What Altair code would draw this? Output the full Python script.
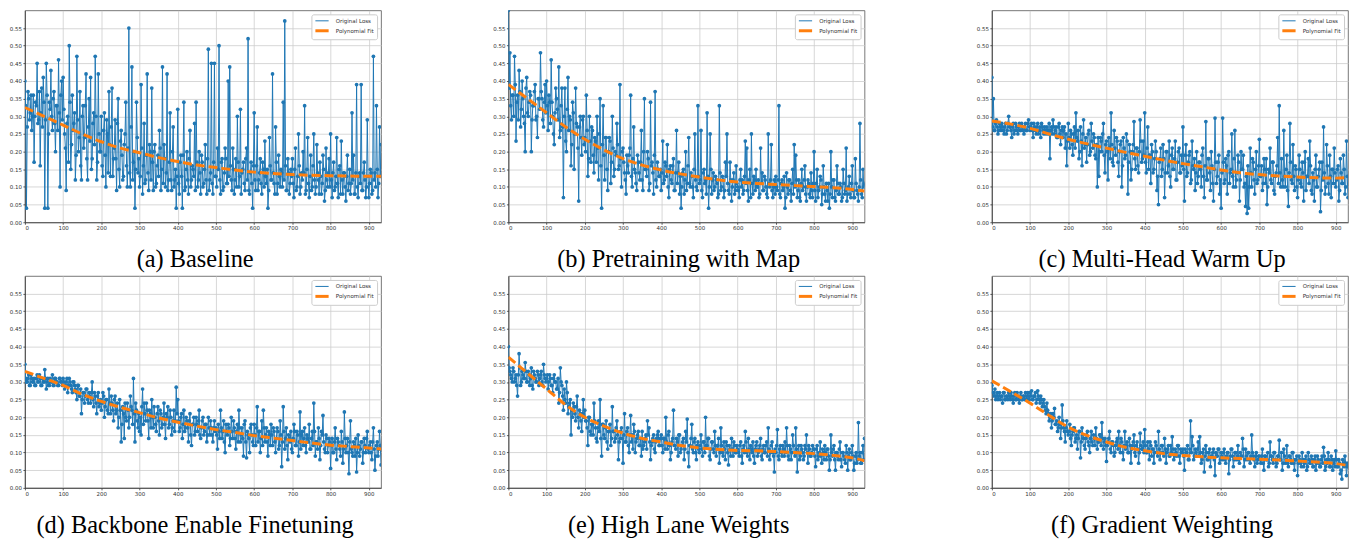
import altair as alt
import pandas as pd

ITER = list(range(0, 936, 4))      # iterations sampled at 0, 4, 8, ...
ITER2 = list(range(2, 932, 4))     # iterations sampled at 2, 6, 10, ...
FIT_X = [0, 50, 100, 150, 200, 250, 300, 350, 400, 450, 500, 550, 600, 650, 700, 750, 800, 850, 900, 932]

CAPTIONS = ["(a) Baseline", "(b) Pretraining with Map", "(c) Multi-Head Warm Up",
            "(d) Backbone Enable Finetuning", "(e) High Lane Weights", "(f) Gradient Weighting"]
SERIES = ["Original Loss", "Polynomial Fit"]
BLUE, ORANGE = "#1f77b4", "#ff7f0e"

LOSS_A = [
    0.40, 0.04, 0.37, 0.29, 0.36, 0.30, 0.17, 0.34, 0.45, 0.29, 0.16, 0.38, 0.41, 0.04, 0.45, 0.04, 0.34, 0.43, 0.26, 0.37, 0.20, 0.33, 0.46, 0.10, 0.40,
    0.41, 0.25, 0.09, 0.30, 0.50, 0.15, 0.36, 0.28, 0.12, 0.47, 0.20, 0.37, 0.12, 0.33, 0.24, 0.42, 0.12, 0.35, 0.41, 0.18, 0.31, 0.47, 0.12, 0.42, 0.20,
    0.30, 0.13, 0.31, 0.10, 0.25, 0.37, 0.13, 0.38, 0.18, 0.29, 0.09, 0.35, 0.10, 0.26, 0.12, 0.22, 0.34, 0.10, 0.55, 0.10, 0.44, 0.17, 0.04, 0.34, 0.14,
    0.10, 0.39, 0.08, 0.28, 0.12, 0.42, 0.09, 0.20, 0.38, 0.09, 0.22, 0.11, 0.19, 0.26, 0.09, 0.44, 0.22, 0.10, 0.42, 0.12, 0.31, 0.09, 0.27, 0.12, 0.04,
    0.32, 0.08, 0.19, 0.04, 0.34, 0.10, 0.20, 0.08, 0.26, 0.12, 0.15, 0.28, 0.34, 0.10, 0.20, 0.08, 0.17, 0.11, 0.22, 0.08, 0.49, 0.12, 0.45, 0.08, 0.45,
    0.13, 0.21, 0.50, 0.08, 0.18, 0.10, 0.21, 0.11, 0.40, 0.44, 0.12, 0.21, 0.08, 0.18, 0.30, 0.10, 0.32, 0.14, 0.17, 0.09, 0.21, 0.52, 0.08, 0.17, 0.04,
    0.31, 0.09, 0.27, 0.12, 0.18, 0.08, 0.15, 0.23, 0.11, 0.04, 0.24, 0.12, 0.42, 0.11, 0.27, 0.08, 0.19, 0.10, 0.14, 0.34, 0.57, 0.09, 0.18, 0.08, 0.15,
    0.18, 0.07, 0.21, 0.10, 0.25, 0.08, 0.14, 0.20, 0.33, 0.09, 0.24, 0.07, 0.19, 0.10, 0.25, 0.08, 0.22, 0.12, 0.17, 0.08, 0.19, 0.06, 0.21, 0.10, 0.18,
    0.25, 0.07, 0.17, 0.10, 0.24, 0.07, 0.16, 0.23, 0.08, 0.14, 0.06, 0.19, 0.11, 0.08, 0.31, 0.19, 0.08, 0.39, 0.07, 0.14, 0.39, 0.09, 0.17, 0.07, 0.29,
    0.07, 0.15, 0.08, 0.47, 0.14, 0.33, 0.07, 0.27, 0.22,
]
LOSS_A2 = [
    0.33, 0.27, 0.35, 0.31, 0.26, 0.36, 0.30, 0.33, 0.28, 0.37, 0.31, 0.27, 0.34, 0.29, 0.36, 0.25, 0.32, 0.30, 0.35, 0.28, 0.33, 0.26, 0.31, 0.36, 0.29,
    0.32, 0.21, 0.28, 0.17, 0.34, 0.22, 0.26, 0.31, 0.19, 0.29, 0.24, 0.16, 0.30, 0.21, 0.33, 0.18, 0.27, 0.23, 0.15, 0.28, 0.22, 0.30, 0.17, 0.25, 0.20,
    0.16, 0.26, 0.19, 0.29, 0.14, 0.22, 0.27, 0.13, 0.21, 0.18, 0.28, 0.15, 0.23, 0.19, 0.13, 0.25, 0.16, 0.21, 0.14, 0.27, 0.12, 0.20, 0.15, 0.24, 0.18,
    0.13, 0.21, 0.16, 0.11, 0.19, 0.14, 0.22, 0.12, 0.17, 0.20, 0.10, 0.16, 0.13, 0.21, 0.15, 0.11, 0.18, 0.14, 0.09, 0.17, 0.12, 0.20, 0.10, 0.15, 0.13,
    0.11, 0.17, 0.13, 0.19, 0.09, 0.15, 0.12, 0.18, 0.10, 0.16, 0.13, 0.09, 0.17, 0.12, 0.14, 0.19, 0.10, 0.15, 0.12, 0.18, 0.09, 0.14, 0.11, 0.17, 0.13,
    0.10, 0.15, 0.12, 0.17, 0.09, 0.14, 0.18, 0.11, 0.13, 0.16, 0.09, 0.15, 0.12, 0.10, 0.17, 0.13, 0.08, 0.15, 0.11, 0.18, 0.12, 0.09, 0.14, 0.11, 0.16,
    0.12, 0.16, 0.09, 0.14, 0.11, 0.17, 0.10, 0.13, 0.15, 0.09, 0.16, 0.12, 0.14, 0.08, 0.17, 0.11, 0.13, 0.15, 0.10, 0.12, 0.16, 0.09, 0.14, 0.11, 0.13,
    0.11, 0.15, 0.09, 0.13, 0.16, 0.10, 0.12, 0.14, 0.08, 0.15, 0.11, 0.13, 0.09, 0.16, 0.12, 0.10, 0.14, 0.08, 0.13, 0.11, 0.15, 0.09, 0.12, 0.14, 0.10,
    0.12, 0.14, 0.09, 0.13, 0.11, 0.15, 0.08, 0.12, 0.14, 0.10, 0.13, 0.09, 0.15, 0.11, 0.12, 0.08, 0.14, 0.10, 0.13, 0.11, 0.09, 0.14, 0.12, 0.10, 0.13,
    0.11, 0.14, 0.09, 0.12, 0.10, 0.15, 0.11, 0.13,
]
LOSS_B = [
    0.60, 0.48, 0.29, 0.36, 0.47, 0.23, 0.36, 0.43, 0.27, 0.40, 0.30, 0.20, 0.41, 0.30, 0.37, 0.20, 0.33, 0.37, 0.29, 0.24, 0.35, 0.48, 0.35, 0.27, 0.39,
    0.40, 0.26, 0.34, 0.46, 0.30, 0.22, 0.38, 0.32, 0.44, 0.26, 0.38, 0.07, 0.38, 0.20, 0.41, 0.30, 0.16, 0.34, 0.15, 0.38, 0.27, 0.06, 0.30, 0.19, 0.30,
    0.24, 0.36, 0.13, 0.30, 0.17, 0.26, 0.14, 0.23, 0.30, 0.12, 0.35, 0.04, 0.33, 0.12, 0.24, 0.09, 0.24, 0.11, 0.30, 0.13, 0.20, 0.28, 0.15, 0.39, 0.10,
    0.21, 0.14, 0.08, 0.16, 0.19, 0.36, 0.10, 0.27, 0.14, 0.09, 0.17, 0.12, 0.26, 0.09, 0.35, 0.15, 0.20, 0.09, 0.34, 0.17, 0.08, 0.37, 0.10, 0.15, 0.13,
    0.09, 0.23, 0.12, 0.16, 0.22, 0.07, 0.16, 0.11, 0.18, 0.09, 0.26, 0.14, 0.08, 0.04, 0.14, 0.08, 0.20, 0.11, 0.24, 0.10, 0.13, 0.07, 0.25, 0.10, 0.33,
    0.11, 0.26, 0.07, 0.15, 0.12, 0.31, 0.04, 0.25, 0.08, 0.14, 0.10, 0.12, 0.07, 0.33, 0.09, 0.13, 0.07, 0.17, 0.25, 0.09, 0.17, 0.06, 0.12, 0.08, 0.16,
    0.10, 0.07, 0.15, 0.12, 0.09, 0.23, 0.21, 0.06, 0.15, 0.25, 0.08, 0.12, 0.15, 0.10, 0.07, 0.21, 0.14, 0.09, 0.12, 0.08, 0.25, 0.10, 0.22, 0.07, 0.12,
    0.13, 0.09, 0.33, 0.07, 0.12, 0.10, 0.04, 0.14, 0.08, 0.12, 0.06, 0.15, 0.22, 0.19, 0.07, 0.12, 0.06, 0.15, 0.10, 0.16, 0.06, 0.12, 0.08, 0.14, 0.07,
    0.20, 0.06, 0.15, 0.09, 0.13, 0.05, 0.16, 0.08, 0.11, 0.06, 0.04, 0.20, 0.07, 0.12, 0.06, 0.16, 0.08, 0.11, 0.06, 0.15, 0.08, 0.21, 0.08, 0.13, 0.07,
    0.16, 0.07, 0.18, 0.09, 0.06, 0.28, 0.08, 0.15, 0.11,
]
LOSS_B2 = [
    0.38, 0.33, 0.36, 0.30, 0.39, 0.34, 0.29, 0.37, 0.32, 0.35, 0.28, 0.38, 0.31, 0.34, 0.36, 0.29, 0.33, 0.39, 0.30, 0.35, 0.32, 0.37, 0.29, 0.34, 0.31,
    0.33, 0.36, 0.28, 0.34, 0.25, 0.31, 0.35, 0.29, 0.24, 0.33, 0.27, 0.30, 0.23, 0.32, 0.26, 0.29, 0.22, 0.31, 0.25, 0.28, 0.21, 0.27, 0.24, 0.29, 0.22,
    0.20, 0.26, 0.18, 0.23, 0.27, 0.19, 0.24, 0.17, 0.21, 0.25, 0.16, 0.22, 0.19, 0.24, 0.15, 0.20, 0.23, 0.17, 0.21, 0.15, 0.19, 0.22, 0.16, 0.18, 0.20,
    0.17, 0.12, 0.19, 0.14, 0.21, 0.13, 0.18, 0.15, 0.11, 0.19, 0.14, 0.17, 0.12, 0.20, 0.15, 0.13, 0.18, 0.11, 0.16, 0.14, 0.19, 0.12, 0.17, 0.13, 0.15,
    0.14, 0.11, 0.17, 0.13, 0.10, 0.15, 0.12, 0.16, 0.09, 0.14, 0.11, 0.17, 0.13, 0.10, 0.15, 0.12, 0.09, 0.16, 0.11, 0.14, 0.10, 0.15, 0.12, 0.09, 0.13,
    0.12, 0.09, 0.14, 0.11, 0.08, 0.13, 0.10, 0.15, 0.12, 0.09, 0.13, 0.11, 0.08, 0.14, 0.10, 0.12, 0.09, 0.13, 0.11, 0.08, 0.12, 0.10, 0.14, 0.09, 0.11,
    0.09, 0.12, 0.10, 0.08, 0.13, 0.11, 0.09, 0.12, 0.07, 0.11, 0.13, 0.09, 0.10, 0.12, 0.08, 0.11, 0.09, 0.13, 0.10, 0.07, 0.11, 0.12, 0.09, 0.10, 0.08,
    0.10, 0.12, 0.08, 0.11, 0.09, 0.13, 0.07, 0.10, 0.12, 0.09, 0.11, 0.08, 0.10, 0.12, 0.09, 0.07, 0.11, 0.09, 0.12, 0.08, 0.10, 0.11, 0.07, 0.09, 0.11,
    0.09, 0.11, 0.07, 0.10, 0.12, 0.08, 0.10, 0.06, 0.09, 0.11, 0.08, 0.10, 0.12, 0.07, 0.09, 0.11, 0.08, 0.10, 0.07, 0.11, 0.09, 0.06, 0.10, 0.08, 0.11,
    0.09, 0.07, 0.11, 0.08, 0.10, 0.12, 0.07, 0.10,
]
LOSS_C = [
    0.41, 0.35, 0.26, 0.29, 0.25, 0.28, 0.26, 0.27, 0.25, 0.28, 0.26, 0.30, 0.27, 0.24, 0.28, 0.26, 0.27, 0.25, 0.28, 0.26, 0.27, 0.25, 0.28, 0.26, 0.29,
    0.26, 0.28, 0.24, 0.27, 0.25, 0.28, 0.26, 0.24, 0.27, 0.25, 0.26, 0.27, 0.25, 0.18, 0.27, 0.29, 0.25, 0.27, 0.24, 0.28, 0.22, 0.27, 0.26, 0.21, 0.16,
    0.28, 0.21, 0.25, 0.19, 0.27, 0.31, 0.23, 0.18, 0.27, 0.16, 0.29, 0.22, 0.17, 0.25, 0.19, 0.28, 0.21, 0.24, 0.18, 0.10, 0.13, 0.24, 0.20, 0.28, 0.14,
    0.23, 0.12, 0.21, 0.31, 0.17, 0.26, 0.19, 0.23, 0.13, 0.22, 0.10, 0.24, 0.18, 0.25, 0.08, 0.22, 0.12, 0.20, 0.285, 0.15, 0.21, 0.14, 0.29, 0.17, 0.23,
    0.31, 0.14, 0.27, 0.19, 0.11, 0.20, 0.15, 0.23, 0.09, 0.05, 0.18, 0.13, 0.22, 0.07, 0.20, 0.14, 0.23, 0.10, 0.21, 0.15, 0.23, 0.12, 0.20, 0.14, 0.19,
    0.27, 0.06, 0.22, 0.14, 0.19, 0.11, 0.23, 0.15, 0.09, 0.20, 0.13, 0.17, 0.10, 0.21, 0.07, 0.285, 0.12, 0.18, 0.09, 0.16, 0.06, 0.295, 0.11, 0.17, 0.08,
    0.04, 0.295, 0.11, 0.18, 0.08, 0.20, 0.14, 0.25, 0.10, 0.26, 0.12, 0.19, 0.06, 0.20, 0.15, 0.10, 0.045, 0.025, 0.04, 0.21, 0.10, 0.17, 0.08, 0.20, 0.12,
    0.235, 0.13, 0.09, 0.18, 0.11, 0.05, 0.15, 0.21, 0.11, 0.17, 0.08, 0.14, 0.24, 0.33, 0.10, 0.12, 0.26, 0.10, 0.19, 0.045, 0.28, 0.12, 0.22, 0.09, 0.15,
    0.07, 0.19, 0.11, 0.17, 0.06, 0.20, 0.13, 0.18, 0.23, 0.09, 0.14, 0.06, 0.19, 0.10, 0.15, 0.03, 0.17, 0.27, 0.08, 0.22, 0.11, 0.19, 0.07, 0.15, 0.21,
    0.10, 0.15, 0.06, 0.18, 0.11, 0.19, 0.08, 0.23, 0.07,
]
LOSS_C2 = [
    0.27, 0.26, 0.28, 0.27, 0.26, 0.27, 0.28, 0.26, 0.27, 0.25, 0.28, 0.27, 0.26, 0.27, 0.25, 0.28, 0.26, 0.27, 0.26, 0.28, 0.26, 0.27, 0.26, 0.28, 0.27,
    0.27, 0.26, 0.28, 0.26, 0.27, 0.25, 0.27, 0.28, 0.26, 0.27, 0.25, 0.26, 0.28, 0.26, 0.25, 0.27, 0.26, 0.24, 0.27, 0.25, 0.26, 0.24, 0.27, 0.25, 0.23,
    0.24, 0.26, 0.22, 0.25, 0.21, 0.24, 0.26, 0.20, 0.23, 0.25, 0.21, 0.24, 0.22, 0.26, 0.20, 0.23, 0.25, 0.19, 0.22, 0.24, 0.20, 0.23, 0.25, 0.19, 0.22,
    0.20, 0.24, 0.18, 0.22, 0.16, 0.21, 0.24, 0.17, 0.20, 0.23, 0.16, 0.21, 0.19, 0.23, 0.17, 0.20, 0.15, 0.22, 0.18, 0.21, 0.16, 0.20, 0.23, 0.18, 0.19,
    0.17, 0.21, 0.15, 0.19, 0.22, 0.14, 0.18, 0.20, 0.13, 0.17, 0.21, 0.15, 0.18, 0.14, 0.20, 0.16, 0.13, 0.19, 0.15, 0.18, 0.12, 0.17, 0.21, 0.14, 0.16,
    0.15, 0.19, 0.13, 0.17, 0.20, 0.12, 0.16, 0.18, 0.14, 0.11, 0.17, 0.15, 0.19, 0.13, 0.16, 0.12, 0.18, 0.14, 0.20, 0.11, 0.15, 0.17, 0.13, 0.19, 0.12,
    0.14, 0.17, 0.12, 0.16, 0.19, 0.11, 0.15, 0.13, 0.18, 0.10, 0.14, 0.17, 0.12, 0.15, 0.19, 0.11, 0.13, 0.16, 0.10, 0.14, 0.18, 0.12, 0.15, 0.11, 0.16,
    0.13, 0.16, 0.11, 0.15, 0.18, 0.10, 0.14, 0.12, 0.17, 0.09, 0.13, 0.16, 0.11, 0.14, 0.18, 0.10, 0.13, 0.15, 0.09, 0.14, 0.17, 0.11, 0.13, 0.16, 0.10,
    0.12, 0.15, 0.10, 0.14, 0.17, 0.09, 0.13, 0.11, 0.16, 0.08, 0.12, 0.15, 0.10, 0.13, 0.17, 0.09, 0.12, 0.14, 0.10, 0.16, 0.08, 0.13, 0.15, 0.11, 0.14,
    0.12, 0.16, 0.09, 0.14, 0.11, 0.15, 0.10, 0.13,
]
LOSS_D = [
    0.35, 0.30, 0.31, 0.29, 0.32, 0.30, 0.31, 0.29, 0.32, 0.30, 0.31, 0.29, 0.30, 0.335, 0.28, 0.31, 0.29, 0.30, 0.32, 0.29, 0.31, 0.30, 0.29, 0.31, 0.30,
    0.31, 0.28, 0.30, 0.27, 0.31, 0.29, 0.27, 0.30, 0.28, 0.25, 0.29, 0.26, 0.21, 0.27, 0.24, 0.28, 0.25, 0.27, 0.24, 0.30, 0.23, 0.26, 0.21, 0.27, 0.24,
    0.22, 0.27, 0.20, 0.25, 0.22, 0.28, 0.21, 0.24, 0.19, 0.26, 0.22, 0.17, 0.25, 0.13, 0.23, 0.14, 0.20, 0.24, 0.17, 0.26, 0.22, 0.31, 0.13, 0.22, 0.17,
    0.16, 0.15, 0.28, 0.24, 0.19, 0.22, 0.14, 0.21, 0.25, 0.17, 0.20, 0.16, 0.23, 0.15, 0.21, 0.18, 0.24, 0.14, 0.20, 0.17, 0.22, 0.15, 0.19, 0.16, 0.285,
    0.25, 0.16, 0.20, 0.14, 0.22, 0.17, 0.19, 0.13, 0.21, 0.12, 0.18, 0.15, 0.20, 0.16, 0.22, 0.14, 0.19, 0.15, 0.18, 0.13, 0.20, 0.15, 0.17, 0.13, 0.19,
    0.17, 0.11, 0.16, 0.22, 0.14, 0.19, 0.10, 0.16, 0.18, 0.12, 0.20, 0.14, 0.17, 0.11, 0.18, 0.22, 0.13, 0.17, 0.09, 0.19, 0.085, 0.15, 0.10, 0.18, 0.13,
    0.18, 0.12, 0.23, 0.16, 0.10, 0.19, 0.22, 0.13, 0.17, 0.09, 0.15, 0.18, 0.12, 0.16, 0.10, 0.17, 0.11, 0.19, 0.06, 0.23, 0.11, 0.17, 0.08, 0.14, 0.16,
    0.10, 0.18, 0.12, 0.16, 0.09, 0.215, 0.15, 0.12, 0.17, 0.10, 0.14, 0.18, 0.11, 0.16, 0.24, 0.09, 0.13, 0.17, 0.08, 0.16, 0.205, 0.11, 0.15, 0.10, 0.14,
    0.055, 0.14, 0.10, 0.17, 0.08, 0.13, 0.11, 0.16, 0.07, 0.215, 0.10, 0.14, 0.04, 0.19, 0.10, 0.13, 0.09, 0.045, 0.15, 0.09, 0.13, 0.07, 0.14, 0.10, 0.16,
    0.10, 0.13, 0.08, 0.17, 0.05, 0.12, 0.09, 0.16, 0.065,
]
LOSS_D2 = [
    0.31, 0.30, 0.32, 0.29, 0.31, 0.30, 0.29, 0.31, 0.30, 0.32, 0.29, 0.31, 0.30, 0.31, 0.30, 0.29, 0.31, 0.30, 0.29, 0.31, 0.30, 0.29, 0.31, 0.30, 0.29,
    0.30, 0.29, 0.31, 0.29, 0.30, 0.28, 0.30, 0.29, 0.27, 0.29, 0.26, 0.28, 0.25, 0.27, 0.26, 0.28, 0.24, 0.26, 0.27, 0.25, 0.27, 0.24, 0.26, 0.23, 0.25,
    0.24, 0.26, 0.23, 0.25, 0.21, 0.24, 0.26, 0.22, 0.25, 0.21, 0.24, 0.20, 0.22, 0.18, 0.21, 0.24, 0.19, 0.22, 0.20, 0.23, 0.18, 0.21, 0.24, 0.19, 0.21,
    0.20, 0.23, 0.18, 0.21, 0.24, 0.19, 0.22, 0.17, 0.20, 0.23, 0.18, 0.21, 0.19, 0.22, 0.17, 0.20, 0.18, 0.21, 0.23, 0.18, 0.20, 0.17, 0.22, 0.19, 0.21,
    0.19, 0.17, 0.21, 0.18, 0.16, 0.20, 0.17, 0.19, 0.15, 0.18, 0.20, 0.16, 0.18, 0.19, 0.15, 0.17, 0.20, 0.16, 0.18, 0.15, 0.17, 0.19, 0.15, 0.17, 0.16,
    0.15, 0.18, 0.14, 0.17, 0.16, 0.13, 0.18, 0.15, 0.17, 0.14, 0.16, 0.19, 0.14, 0.16, 0.13, 0.17, 0.15, 0.14, 0.18, 0.13, 0.16, 0.14, 0.17, 0.15, 0.12,
    0.15, 0.17, 0.13, 0.16, 0.14, 0.12, 0.17, 0.15, 0.13, 0.16, 0.12, 0.15, 0.17, 0.13, 0.14, 0.16, 0.12, 0.15, 0.13, 0.16, 0.14, 0.12, 0.15, 0.13, 0.11,
    0.14, 0.16, 0.12, 0.15, 0.13, 0.11, 0.16, 0.14, 0.12, 0.15, 0.13, 0.11, 0.14, 0.12, 0.16, 0.13, 0.11, 0.14, 0.12, 0.15, 0.13, 0.10, 0.14, 0.12, 0.13,
    0.12, 0.10, 0.13, 0.11, 0.14, 0.12, 0.09, 0.13, 0.11, 0.14, 0.12, 0.10, 0.13, 0.11, 0.09, 0.12, 0.14, 0.10, 0.12, 0.11, 0.13, 0.10, 0.12, 0.14, 0.11,
    0.12, 0.10, 0.13, 0.11, 0.09, 0.13, 0.11, 0.12,
]
LOSS_E = [
    0.40, 0.33, 0.31, 0.34, 0.30, 0.32, 0.26, 0.38, 0.29, 0.33, 0.31, 0.355, 0.30, 0.33, 0.29, 0.34, 0.28, 0.32, 0.30, 0.33, 0.29, 0.32, 0.30, 0.35, 0.31,
    0.31, 0.28, 0.32, 0.29, 0.27, 0.32, 0.30, 0.28, 0.24, 0.34, 0.29, 0.22, 0.25, 0.30, 0.21, 0.24, 0.15, 0.20, 0.23, 0.19, 0.26, 0.17, 0.21, 0.16, 0.25,
    0.22, 0.19, 0.12, 0.20, 0.15, 0.18, 0.24, 0.17, 0.13, 0.19, 0.25, 0.09, 0.18, 0.14, 0.19, 0.11, 0.16, 0.12, 0.23, 0.16, 0.14, 0.19, 0.08, 0.14, 0.17,
    0.07, 0.21, 0.13, 0.17, 0.10, 0.205, 0.15, 0.18, 0.10, 0.14, 0.16, 0.12, 0.09, 0.11, 0.13, 0.15, 0.19, 0.17, 0.08, 0.13, 0.15, 0.10, 0.14, 0.16, 0.12,
    0.15, 0.10, 0.14, 0.20, 0.11, 0.16, 0.08, 0.13, 0.22, 0.12, 0.14, 0.09, 0.15, 0.11, 0.13, 0.08, 0.16, 0.195, 0.06, 0.12, 0.18, 0.10, 0.14, 0.08, 0.13,
    0.10, 0.15, 0.09, 0.13, 0.20, 0.12, 0.14, 0.08, 0.13, 0.11, 0.16, 0.09, 0.12, 0.07, 0.17, 0.10, 0.13, 0.08, 0.12, 0.065, 0.11, 0.14, 0.09, 0.12, 0.10,
    0.11, 0.09, 0.13, 0.07, 0.12, 0.16, 0.10, 0.14, 0.08, 0.11, 0.13, 0.07, 0.12, 0.09, 0.11, 0.14, 0.08, 0.12, 0.10, 0.13, 0.17, 0.08, 0.12, 0.10, 0.045,
    0.10, 0.165, 0.08, 0.12, 0.09, 0.11, 0.13, 0.17, 0.09, 0.12, 0.08, 0.15, 0.10, 0.17, 0.045, 0.12, 0.09, 0.11, 0.08, 0.12, 0.15, 0.07, 0.11, 0.09, 0.12,
    0.11, 0.06, 0.12, 0.09, 0.13, 0.07, 0.10, 0.12, 0.08, 0.11, 0.05, 0.15, 0.09, 0.12, 0.05, 0.10, 0.08, 0.13, 0.06, 0.10, 0.08, 0.12, 0.05, 0.11, 0.08,
    0.12, 0.05, 0.09, 0.07, 0.185, 0.10, 0.07, 0.12, 0.14,
]
LOSS_E2 = [
    0.34, 0.32, 0.30, 0.33, 0.31, 0.29, 0.32, 0.34, 0.30, 0.32, 0.31, 0.33, 0.30, 0.32, 0.31, 0.29, 0.33, 0.31, 0.30, 0.32, 0.31, 0.33, 0.29, 0.32, 0.30,
    0.32, 0.30, 0.31, 0.29, 0.31, 0.30, 0.28, 0.31, 0.27, 0.30, 0.26, 0.28, 0.24, 0.27, 0.23, 0.25, 0.22, 0.24, 0.21, 0.23, 0.20, 0.22, 0.19, 0.21, 0.20,
    0.19, 0.17, 0.20, 0.16, 0.18, 0.15, 0.19, 0.14, 0.17, 0.16, 0.14, 0.18, 0.15, 0.17, 0.13, 0.16, 0.18, 0.14, 0.16, 0.13, 0.17, 0.15, 0.13, 0.16, 0.14,
    0.15, 0.13, 0.16, 0.12, 0.15, 0.13, 0.11, 0.16, 0.13, 0.15, 0.12, 0.14, 0.16, 0.12, 0.14, 0.11, 0.15, 0.13, 0.12, 0.14, 0.11, 0.13, 0.15, 0.12, 0.14,
    0.12, 0.14, 0.11, 0.13, 0.15, 0.12, 0.10, 0.14, 0.12, 0.11, 0.13, 0.15, 0.10, 0.12, 0.14, 0.11, 0.13, 0.10, 0.12, 0.14, 0.11, 0.13, 0.10, 0.12, 0.11,
    0.12, 0.11, 0.13, 0.10, 0.12, 0.14, 0.09, 0.11, 0.13, 0.10, 0.12, 0.11, 0.14, 0.10, 0.12, 0.09, 0.11, 0.13, 0.10, 0.12, 0.09, 0.11, 0.13, 0.10, 0.12,
    0.10, 0.12, 0.09, 0.11, 0.10, 0.13, 0.09, 0.11, 0.12, 0.10, 0.09, 0.11, 0.13, 0.10, 0.12, 0.09, 0.11, 0.10, 0.12, 0.09, 0.11, 0.10, 0.13, 0.09, 0.11,
    0.12, 0.09, 0.11, 0.10, 0.12, 0.09, 0.10, 0.12, 0.08, 0.11, 0.10, 0.12, 0.09, 0.11, 0.10, 0.08, 0.12, 0.10, 0.09, 0.11, 0.10, 0.12, 0.09, 0.10, 0.11,
    0.09, 0.11, 0.08, 0.10, 0.09, 0.11, 0.08, 0.10, 0.11, 0.09, 0.08, 0.10, 0.11, 0.08, 0.10, 0.09, 0.11, 0.08, 0.10, 0.09, 0.07, 0.10, 0.09, 0.08, 0.10,
    0.09, 0.07, 0.10, 0.08, 0.09, 0.07, 0.10, 0.08,
]
LOSS_F = [
    0.29, 0.27, 0.28, 0.26, 0.25, 0.27, 0.26, 0.24, 0.27, 0.25, 0.26, 0.27, 0.25, 0.26, 0.24, 0.27, 0.25, 0.26, 0.24, 0.27, 0.25, 0.26, 0.27, 0.25, 0.26,
    0.27, 0.275, 0.25, 0.26, 0.24, 0.275, 0.25, 0.26, 0.23, 0.25, 0.22, 0.24, 0.21, 0.20, 0.17, 0.21, 0.225, 0.18, 0.16, 0.20, 0.14, 0.235, 0.17, 0.13, 0.19,
    0.15, 0.18, 0.12, 0.16, 0.17, 0.14, 0.11, 0.16, 0.085, 0.17, 0.14, 0.11, 0.15, 0.13, 0.10, 0.16, 0.12, 0.14, 0.17, 0.11, 0.13, 0.15, 0.185, 0.11, 0.14,
    0.075, 0.13, 0.16, 0.10, 0.13, 0.09, 0.12, 0.14, 0.16, 0.10, 0.13, 0.08, 0.16, 0.12, 0.10, 0.14, 0.07, 0.12, 0.15, 0.09, 0.13, 0.07, 0.155, 0.11, 0.13,
    0.165, 0.10, 0.13, 0.08, 0.12, 0.11, 0.07, 0.13, 0.10, 0.16, 0.08, 0.12, 0.10, 0.14, 0.07, 0.11, 0.09, 0.12, 0.145, 0.08, 0.11, 0.09, 0.12, 0.07, 0.10,
    0.11, 0.05, 0.10, 0.12, 0.08, 0.19, 0.145, 0.08, 0.11, 0.09, 0.13, 0.145, 0.07, 0.10, 0.045, 0.12, 0.08, 0.10, 0.06, 0.09, 0.11, 0.035, 0.09, 0.11, 0.07,
    0.10, 0.08, 0.11, 0.07, 0.10, 0.04, 0.09, 0.11, 0.06, 0.10, 0.08, 0.12, 0.07, 0.09, 0.14, 0.06, 0.11, 0.08, 0.10, 0.07, 0.15, 0.09, 0.06, 0.10, 0.08,
    0.09, 0.07, 0.11, 0.05, 0.09, 0.08, 0.06, 0.13, 0.09, 0.07, 0.10, 0.06, 0.09, 0.135, 0.08, 0.05, 0.11, 0.07, 0.12, 0.06, 0.09, 0.07, 0.10, 0.05, 0.08,
    0.035, 0.09, 0.07, 0.10, 0.06, 0.08, 0.05, 0.10, 0.07, 0.09, 0.06, 0.08, 0.05, 0.09, 0.07, 0.06, 0.09, 0.115, 0.05, 0.08, 0.10, 0.06, 0.09, 0.05, 0.08,
    0.105, 0.06, 0.08, 0.04, 0.025, 0.07, 0.09, 0.035, 0.07,
]
LOSS_F2 = [
    0.27, 0.26, 0.25, 0.27, 0.26, 0.25, 0.26, 0.27, 0.25, 0.26, 0.25, 0.26, 0.27, 0.25, 0.26, 0.25, 0.27, 0.25, 0.26, 0.25, 0.26, 0.25, 0.26, 0.27, 0.25,
    0.26, 0.25, 0.26, 0.27, 0.25, 0.26, 0.24, 0.25, 0.24, 0.23, 0.21, 0.22, 0.19, 0.21, 0.19, 0.20, 0.18, 0.19, 0.17, 0.18, 0.17, 0.19, 0.16, 0.17, 0.16,
    0.16, 0.14, 0.15, 0.17, 0.13, 0.15, 0.14, 0.16, 0.13, 0.15, 0.12, 0.14, 0.16, 0.12, 0.14, 0.13, 0.15, 0.12, 0.14, 0.13, 0.15, 0.12, 0.14, 0.13, 0.12,
    0.12, 0.14, 0.11, 0.13, 0.12, 0.10, 0.13, 0.11, 0.12, 0.14, 0.10, 0.12, 0.11, 0.13, 0.10, 0.12, 0.11, 0.13, 0.10, 0.12, 0.11, 0.10, 0.12, 0.11, 0.10,
    0.12, 0.10, 0.11, 0.13, 0.09, 0.11, 0.10, 0.12, 0.09, 0.11, 0.10, 0.12, 0.09, 0.11, 0.10, 0.12, 0.09, 0.10, 0.11, 0.09, 0.10, 0.12, 0.09, 0.11, 0.10,
    0.09, 0.11, 0.10, 0.08, 0.11, 0.10, 0.12, 0.09, 0.10, 0.11, 0.09, 0.10, 0.08, 0.11, 0.09, 0.10, 0.08, 0.11, 0.09, 0.10, 0.08, 0.10, 0.09, 0.11, 0.08,
    0.09, 0.10, 0.08, 0.09, 0.10, 0.08, 0.11, 0.09, 0.08, 0.10, 0.09, 0.08, 0.10, 0.09, 0.11, 0.08, 0.09, 0.10, 0.08, 0.09, 0.10, 0.08, 0.09, 0.07, 0.09,
    0.08, 0.09, 0.07, 0.09, 0.08, 0.10, 0.07, 0.09, 0.08, 0.10, 0.08, 0.07, 0.09, 0.08, 0.10, 0.07, 0.09, 0.08, 0.07, 0.09, 0.08, 0.10, 0.07, 0.08, 0.09,
    0.07, 0.08, 0.06, 0.08, 0.07, 0.09, 0.06, 0.08, 0.07, 0.08, 0.06, 0.09, 0.07, 0.08, 0.06, 0.08, 0.07, 0.09, 0.06, 0.07, 0.08, 0.06, 0.08, 0.07, 0.06,
    0.08, 0.06, 0.07, 0.05, 0.08, 0.06, 0.07, 0.06,
]

FIT_A = [0.325, 0.300, 0.275, 0.250, 0.228, 0.210, 0.197, 0.183, 0.172, 0.162, 0.155, 0.148, 0.142, 0.138, 0.135, 0.133, 0.132, 0.131, 0.130, 0.130]
FIT_B = [0.390, 0.350, 0.310, 0.270, 0.235, 0.205, 0.180, 0.162, 0.148, 0.137, 0.128, 0.120, 0.114, 0.110, 0.107, 0.104, 0.101, 0.098, 0.093, 0.088]
FIT_C = [0.287, 0.278, 0.266, 0.250, 0.235, 0.222, 0.210, 0.198, 0.187, 0.176, 0.166, 0.157, 0.148, 0.140, 0.135, 0.131, 0.128, 0.126, 0.125, 0.127]
FIT_D = [0.330, 0.310, 0.290, 0.265, 0.245, 0.228, 0.213, 0.198, 0.186, 0.175, 0.165, 0.157, 0.148, 0.141, 0.134, 0.127, 0.121, 0.117, 0.113, 0.110]
FIT_E = [0.370, 0.325, 0.280, 0.235, 0.200, 0.175, 0.155, 0.140, 0.130, 0.120, 0.113, 0.109, 0.106, 0.105, 0.103, 0.100, 0.097, 0.092, 0.085, 0.077]
FIT_F = [0.303, 0.272, 0.240, 0.205, 0.172, 0.148, 0.130, 0.115, 0.105, 0.097, 0.092, 0.088, 0.085, 0.083, 0.081, 0.079, 0.076, 0.073, 0.069, 0.063]

Y_TICKS = [0.0, 0.05, 0.10, 0.15, 0.20, 0.25, 0.30, 0.35, 0.40, 0.45, 0.50, 0.55]
X_TICKS = [0, 100, 200, 300, 400, 500, 600, 700, 800, 900]

# flat legend glyph: a short horizontal stroke
LEGEND_GLYPH = "M-1,0H2.8"


def panel(loss, loss2, fit, caption):
    xs = ITER[:len(loss)] + ITER2[:len(loss2)]
    ys = loss[:len(ITER)] + loss2[:len(ITER2)]
    df_loss = pd.DataFrame({"x": xs, "y": ys, "series": SERIES[0]}).sort_values("x")
    df_fit = pd.DataFrame({"x": FIT_X, "y": fit, "series": SERIES[1]})
    x = alt.X("x:Q", scale=alt.Scale(domain=[0, 932], nice=False, zero=False),
              axis=alt.Axis(values=X_TICKS, format="d", title=None, minExtent=9, maxExtent=9))
    y = alt.Y("y:Q", scale=alt.Scale(domain=[0, 0.6], nice=False),
              axis=alt.Axis(values=Y_TICKS, format=".2f", title=None, minExtent=15, maxExtent=15))
    color = alt.Color("series:N", scale=alt.Scale(domain=SERIES, range=[BLUE, ORANGE]),
                      legend=alt.Legend(title=None))
    sw = alt.StrokeWidth("series:N", scale=alt.Scale(domain=SERIES, range=[1.0, 3]),
                         legend=alt.Legend(title=None))
    line = alt.Chart(df_loss).mark_line(clip=True).encode(x=x, y=y, color=color, strokeWidth=sw)
    pts = alt.Chart(df_loss).mark_point(filled=True, size=14, opacity=1, clip=True).encode(x=x, y=y, color=color)
    fitl = alt.Chart(df_fit).mark_line(strokeDash=[9, 4], interpolate="monotone", clip=True).encode(
        x=x, y=y, color=color, strokeWidth=sw)
    return alt.layer(line, pts, fitl).properties(
        width=358, height=213,
        title=alt.TitleParams(caption, orient="bottom", anchor="middle", frame="bounds"),
    )


panels = [panel(l, l2, f, c) for l, l2, f, c in zip(
    [LOSS_A, LOSS_B, LOSS_C, LOSS_D, LOSS_E, LOSS_F],
    [LOSS_A2, LOSS_B2, LOSS_C2, LOSS_D2, LOSS_E2, LOSS_F2],
    [FIT_A, FIT_B, FIT_C, FIT_D, FIT_E, FIT_F],
    CAPTIONS)]

row1 = alt.hconcat(*panels[:3], spacing=110).resolve_scale(color="independent", strokeWidth="independent")
row2 = alt.hconcat(*panels[3:], spacing=110).resolve_scale(color="independent", strokeWidth="independent")

chart = alt.vconcat(row1, row2, spacing=3).resolve_scale(
    color="independent", strokeWidth="independent"
).configure(
    padding=0, background="white",
).configure_view(
    stroke="#555555", strokeWidth=0.8,
).configure_axis(
    labelFont="DejaVu Sans", labelFontSize=5.5, labelColor="#333333", labelPadding=1.5,
    tickSize=2, tickColor="#333333", tickWidth=0.8, domainColor="#333333", domainWidth=0.8,
    gridColor="#cccccc", gridWidth=0.8,
).configure_legend(
    orient="top-right", offset=4, padding=2.5, fillColor="white", strokeColor="#cccccc",
    cornerRadius=2, labelFont="DejaVu Sans", labelFontSize=5.5, labelColor="#333333",
    symbolType=LEGEND_GLYPH, symbolSize=49, rowPadding=0, labelOffset=12,
).configure_title(
    font="Liberation Serif", fontSize=24.5, fontWeight="normal", color="black", offset=17,
)

chart.save("out.html", embed_options={"renderer": "svg", "actions": False})
